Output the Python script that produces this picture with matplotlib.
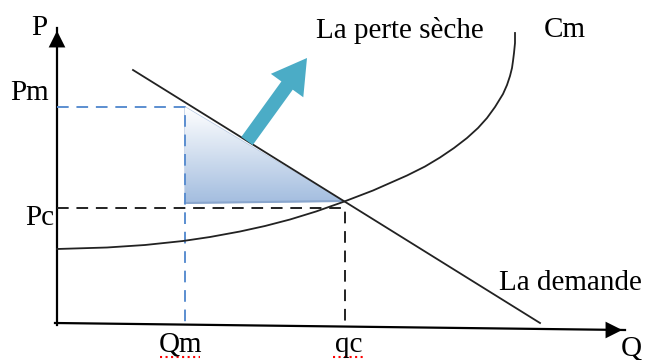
import numpy as np
import matplotlib.pyplot as plt
from matplotlib.patches import Polygon
from matplotlib.colors import LinearSegmentedColormap

# -------------------------
# donnees (Q, P)
# -------------------------
demande_q = [76, 483]
demande_p = [253, 0]

cm_q = [0, 50, 88, 126, 153, 183, 208, 233, 259, 286, 316, 350, 368, 383, 397,
        410, 421, 430, 438, 446, 450, 453, 455, 456, 457, 458, 458]
cm_p = [74, 75.5, 78, 82, 86, 91.5, 97, 103.5, 111.5, 121, 132.5, 147.5, 156.5, 165.5, 175,
        185, 195, 205, 216, 229, 238, 247, 255, 262, 270, 280, 290]

Qm, qc = 128, 288
Pm, Pc = 216, 115
perte_q = [128, 128, 286]
perte_p = [216, 120, 122]

fleche_debut = (190, 182)
fleche_fin = (250, 265)

axe_y = ([0, 0], [-2, 295])
axe_x = ([-2, 568], [0, -7])

fig = plt.figure(figsize=(6.47, 3.6), dpi=100)
ax = fig.add_axes([0, 0, 1, 1])
ax.set_xlim(-57, 590)
ax.set_ylim(-37, 323)
ax.axis("off")

police = dict(family="Liberation Serif", fontsize=21, color="black")

# axes avec fleches
ax.plot(axe_y[0], axe_y[1], color="black", lw=1.6)
ax.plot(axe_x[0], axe_x[1], color="black", lw=1.6)
ax.annotate("", xy=(axe_y[0][1], axe_y[1][1]), xytext=(axe_y[0][1], axe_y[1][1] - 16),
            arrowprops=dict(arrowstyle="-|>", color="black", mutation_scale=30, lw=0))
ax.annotate("", xy=(axe_x[0][1], axe_x[1][1]), xytext=(axe_x[0][1] - 16, axe_x[1][1]),
            arrowprops=dict(arrowstyle="-|>", color="black", mutation_scale=30, lw=0))

# perte seche: triangle en degrade
tri = Polygon(list(zip(perte_q, perte_p)), closed=True, facecolor="none",
              edgecolor="#b5c8e3", lw=1)
ax.add_patch(tri)
grad = np.linspace(0, 1, 256).reshape(-1, 1)
cmap = LinearSegmentedColormap.from_list("bleu", ["#ffffff", "#a3bddf"])
im = ax.imshow(grad, cmap=cmap, aspect="auto", origin="upper",
               extent=(min(perte_q), max(perte_q), min(perte_p), max(perte_p)), zorder=1)
im.set_clip_path(tri)
ax.plot([perte_q[1], perte_q[2]], [perte_p[1], perte_p[2]], color="#8aa6cd", lw=1.5, zorder=2)

# pointilles
ax.plot([0, Qm, Qm], [Pm, Pm, 0], color="#5b8ed0", lw=1.4, ls=(0, (6, 4)), zorder=3)
ax.plot([0, qc, qc], [Pc, Pc, 0], color="#222222", lw=1.4, ls=(0, (6, 4)), zorder=3)

# courbes
ax.plot(demande_q, demande_p, color="#222222", lw=1.3, zorder=4)
ax.plot(cm_q, cm_p, color="#222222", lw=1.3, zorder=4)

# fleche turquoise
ax.arrow(fleche_debut[0], fleche_debut[1],
         fleche_fin[0] - fleche_debut[0], fleche_fin[1] - fleche_debut[1],
         width=14, head_width=40, head_length=34, length_includes_head=True,
         color="#4bacc6", lw=0, zorder=5)

# textes
ax.text(-18, 295, "P", ha="center", va="center", **police)
ax.text(-27, 230, "Pm", ha="center", va="center", **police)
ax.text(-17, 105, "Pc", ha="center", va="center", **police)
ax.text(Qm - 5, -22, "Qm", ha="center", va="center", **police)
ax.text(qc + 4, -22, "qc", ha="center", va="center", **police)
ax.text(574, -25, "Q", ha="center", va="center", **police)
ax.text(343, 293, "La perte sèche", ha="center", va="center", **police)
ax.text(508, 293, "Cm", ha="center", va="center", **police)
ax.text(513, 40, "La demande", ha="center", va="center", **police)

# soulignement rouge (correcteur)
ax.plot([Qm - 25, Qm + 15], [-34, -34], color="red", lw=1.5, ls=":")
ax.plot([qc - 12, qc + 18], [-34, -34], color="red", lw=1.5, ls=":")

fig.savefig("out.png", dpi=100)
